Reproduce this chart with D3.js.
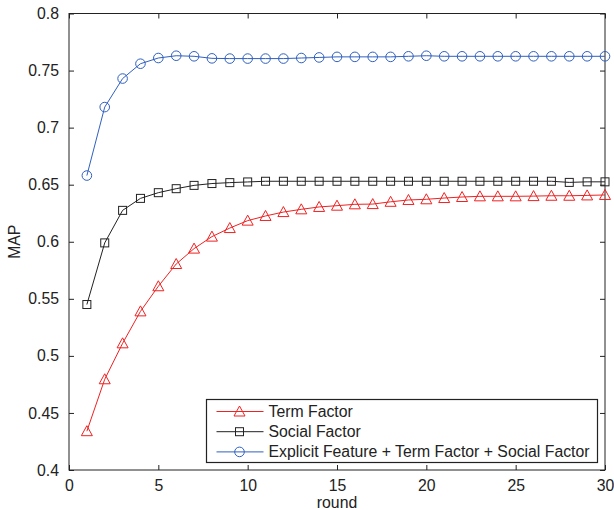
<!DOCTYPE html>
<html>
<head>
<meta charset="utf-8">
<script src="https://cdn.jsdelivr.net/npm/d3@7"></script>
<style>
  body { margin: 0; background: #fff; }
  svg text { font-family: "Liberation Sans", Arial, sans-serif; fill: #222; }
</style>
</head>
<body>
<div id="chart"></div>
<script>
"use strict"

const rounds = d3.range(1, 31);
const termFactor = [
    0.434, 0.4795, 0.511, 0.539, 0.561, 0.5805, 0.594, 0.6045, 0.612, 0.6185,
    0.6226, 0.626, 0.6284, 0.6305, 0.6316, 0.6328, 0.633, 0.635, 0.6366, 0.6372,
    0.6383, 0.6392, 0.6398, 0.6398, 0.6398, 0.640, 0.6403, 0.6403, 0.6406, 0.641
];
const socialFactor = [
    0.545, 0.599, 0.6275, 0.638, 0.643, 0.6465, 0.6494, 0.651, 0.6518, 0.6524,
    0.653, 0.653, 0.653, 0.653, 0.653, 0.653, 0.653, 0.653, 0.653, 0.653,
    0.653, 0.653, 0.653, 0.653, 0.653, 0.653, 0.653, 0.652, 0.6525, 0.6525
];
const explicitAll = [
    0.658, 0.718, 0.743, 0.756, 0.761, 0.763, 0.7625, 0.7607, 0.7605, 0.7605,
    0.7605, 0.7605, 0.761, 0.7615, 0.762, 0.762, 0.762, 0.762, 0.7625, 0.763,
    0.7625, 0.7625, 0.7625, 0.7625, 0.7625, 0.7625, 0.7625, 0.7625, 0.7625, 0.7625
];
const seriesNames = [
    "Term Factor",
    "Social Factor",
    "Explicit Feature + Term Factor + Social Factor"
];
const xTicks = [0, 5, 10, 15, 20, 25, 30];
const yTicks = [0.4, 0.45, 0.5, 0.55, 0.6, 0.65, 0.7, 0.75, 0.8];

const width = 614;
const height = 510;
const plotLeft = 69;
const plotRight = 605;
const plotTop = 13.5;
const plotBottom = 470;
const tickLength = 5;
const fontSize = 15.8;

const colors = ["#ee2222", "#222222", "#3060c0"];
const markers = ["triangle", "square", "circle"];
const seriesList = [termFactor, socialFactor, explicitAll];

const svg = d3.select("#chart").append("svg")
    .attr("width", width)
    .attr("height", height);

const x = d3.scaleLinear().domain([0, 30]).range([plotLeft, plotRight]);
const y = d3.scaleLinear().domain([0.4, 0.8]).range([plotBottom, plotTop]);

// axes, ticks pointing inward on all four sides
svg.append("g")
    .attr("transform", `translate(0,${plotBottom})`)
    .call(d3.axisBottom(x).tickValues(xTicks).tickSizeInner(-tickLength).tickSizeOuter(0).tickPadding(10))
    .call(g => g.selectAll("text").attr("font-size", fontSize).attr("dy", "0.71em"));

svg.append("g")
    .attr("transform", `translate(0,${plotTop})`)
    .call(d3.axisTop(x).tickValues(xTicks).tickSizeInner(-tickLength).tickSizeOuter(0).tickFormat(""));

svg.append("g")
    .attr("transform", `translate(${plotLeft},0)`)
    .call(d3.axisLeft(y).tickValues(yTicks).tickSizeInner(-tickLength).tickSizeOuter(0).tickPadding(10).tickFormat(d3.format("")))
    .call(g => g.selectAll("text").attr("font-size", fontSize));

svg.append("g")
    .attr("transform", `translate(${plotRight},0)`)
    .call(d3.axisRight(y).tickValues(yTicks).tickSizeInner(-tickLength).tickSizeOuter(0).tickFormat(""));

svg.selectAll(".domain").remove();
svg.selectAll(".tick line").attr("stroke", "#222");
svg.selectAll("g").attr("font-family", null);
svg.selectAll(".tick text").attr("fill", "#222");

svg.append("rect")
    .attr("x", plotLeft)
    .attr("y", plotTop)
    .attr("width", plotRight - plotLeft)
    .attr("height", plotBottom - plotTop)
    .attr("fill", "none")
    .attr("stroke", "#222")
    .attr("stroke-width", 1);

// axis labels
svg.append("text")
    .attr("x", (plotLeft + plotRight) / 2)
    .attr("y", 508)
    .attr("text-anchor", "middle")
    .attr("font-size", fontSize)
    .text("round");

svg.append("text")
    .attr("transform", `translate(19.5,${(plotTop + plotBottom) / 2}) rotate(-90)`)
    .attr("text-anchor", "middle")
    .attr("font-size", fontSize)
    .text("MAP");

function DrawMarker(g, type, cx, cy, color)
{
    if(type == "circle")
    {
        g.append("circle")
            .attr("cx", cx).attr("cy", cy).attr("r", 4.8)
            .attr("fill", "none").attr("stroke", color);
    }
    else if(type == "square")
    {
        g.append("rect")
            .attr("x", cx - 4).attr("y", cy - 4)
            .attr("width", 8).attr("height", 8)
            .attr("fill", "none").attr("stroke", color);
    }
    else
    {
        g.append("path")
            .attr("d", `M${cx},${cy - 5.5}L${cx + 5.5},${cy + 4.5}L${cx - 5.5},${cy + 4.5}Z`)
            .attr("fill", "none").attr("stroke", color);
    }
}

const line = d3.line()
    .x((d, i) => x(rounds[i]))
    .y(d => y(d));

seriesList.forEach((values, s) => {
    const g = svg.append("g");
    g.append("path")
        .datum(values)
        .attr("d", line)
        .attr("fill", "none")
        .attr("stroke", colors[s])
        .attr("stroke-width", 1);
    values.forEach((v, i) => DrawMarker(g, markers[s], x(rounds[i]), y(v), colors[s]));
});

// legend
const legend = svg.append("g");
legend.append("rect")
    .attr("x", 206.5)
    .attr("y", 399.5)
    .attr("width", 391)
    .attr("height", 63)
    .attr("fill", "#fff")
    .attr("stroke", "#222")
    .attr("stroke-width", 1.2);

seriesNames.forEach((name, s) => {
    const ly = 411.5 + s * 20.2;
    legend.append("line")
        .attr("x1", 216.5).attr("x2", 263.5)
        .attr("y1", ly).attr("y2", ly)
        .attr("stroke", colors[s]);
    DrawMarker(legend, markers[s], 239.5, ly, colors[s]);
    legend.append("text")
        .attr("x", 268.5)
        .attr("y", ly)
        .attr("dy", "0.35em")
        .attr("font-size", fontSize)
        .text(name);
});
</script>
</body>
</html>
